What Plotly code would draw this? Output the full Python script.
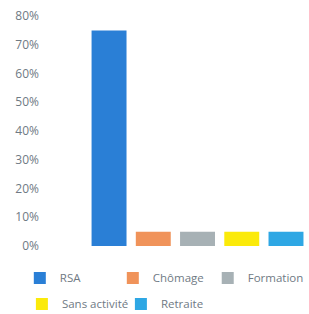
import plotly.graph_objects as go

categories = ["RSA", "Chômage", "Formation", "Sans activité", "Retraite"]
values = [0.75, 0.05, 0.05, 0.05, 0.05]
colors = ["#2a7fd6", "#f0935a", "#a7b1b5", "#fbea0a", "#2ea7e4"]
legend_rows = ["legend", "legend", "legend3", "legend2", "legend2"]
tick_vals = [0, 0.1, 0.2, 0.3, 0.4, 0.5, 0.6, 0.7, 0.8]
tick_text = ["0%", "10%", "20%", "30%", "40%", "50%", "60%", "70%", "80%"]

fig = go.Figure()
for c, v, col, lg in zip(categories, values, colors, legend_rows):
    fig.add_trace(go.Bar(x=[c], y=[v], name=c, marker=dict(color=col, line=dict(width=0)),
                         width=0.79, legend=lg))

font = dict(family="Open Sans, Lato, sans-serif", size=12, color="#6f7a84")
lfont = dict(family="Open Sans, Lato, sans-serif", size=11.5, color="#6f7a84")
fig.update_layout(
    width=309, height=314,
    margin=dict(l=48, r=0, t=16, b=68, autoexpand=False),
    plot_bgcolor="white", paper_bgcolor="white",
    showlegend=True,
    xaxis=dict(range=[-1.38, 4.52], showticklabels=False, showgrid=False,
               zeroline=False, showline=False, ticks="", automargin=False),
    yaxis=dict(range=[0, 0.8], tickvals=tick_vals, ticktext=tick_text,
               showgrid=False, zeroline=False, showline=False, tickfont=font,
               ticklabelstandoff=8, automargin=False),
    legend=dict(orientation="h", x=-0.108, xanchor="left",
                y=-0.139, yanchor="middle", font=lfont,
                entrywidth=48, entrywidthmode="pixels", itemwidth=30,
                traceorder="normal", bgcolor="rgba(0,0,0,0)"),
    legend3=dict(orientation="h", x=0.612, xanchor="left",
                 y=-0.139, yanchor="middle", font=lfont, itemwidth=30,
                 bgcolor="rgba(0,0,0,0)"),
    legend2=dict(orientation="h", x=-0.1, xanchor="left",
                 y=-0.252, yanchor="middle", font=lfont,
                 entrywidth=54, entrywidthmode="pixels", itemwidth=30,
                 traceorder="normal", bgcolor="rgba(0,0,0,0)"),
)
fig.write_html("out.html", config={"displayModeBar": False},
               post_script="document.body.style.margin='0px';")
